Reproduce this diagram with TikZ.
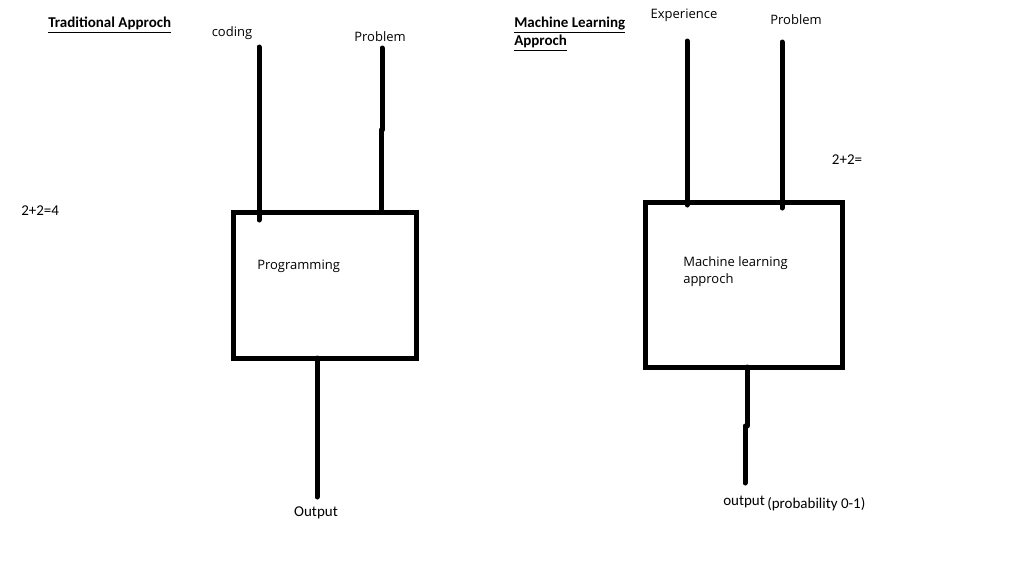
\documentclass[tikz,border=0pt]{standalone}
\usepackage{fontspec}
\setmainfont{Open Sans}
\newfontfamily\calib{Carlito}
\begin{document}
\begin{tikzpicture}[x=0.75pt,y=-0.75pt,
  wire/.style={line width=3.75pt,line cap=round},
  boxst/.style={draw,line width=3.75pt,inner sep=0pt,outer sep=0pt,rectangle},
  seg/.style={font=\fontsize{9.75}{12}\selectfont,inner sep=0pt,text height=7.5pt,text depth=2pt},
  segml/.style={font=\fontsize{9.75}{12.75}\selectfont,inner sep=0pt,align=left},
  cal/.style={font=\calib\fontsize{11.25}{13}\selectfont,inner sep=0pt,text height=7.5pt,text depth=2pt},
  head/.style={font=\calib\bfseries\fontsize{11.25}{13.5}\selectfont,inner sep=0pt,align=left}]
\useasboundingbox[fill=white] (0,0) rectangle (1018,569);

% ---- Traditional approach ----
\node[head,anchor=west] (h1) at (48,25) {\underline{Traditional Approch}};
\node[seg] (coding) at (232,33) {coding};
\node[seg] (prob1) at (380,38) {Problem};
\node[cal,anchor=west] (eq1) at (21,212) {2+2=4};
\node[boxst,minimum width=137.25pt,minimum height=109.5pt] (prog) at (324.5,285) {};
\node[seg,anchor=west] (progtxt) at (257,266) {Programming};
\node[cal] (out1) at (316,513) {Output};

\coordinate (c1a) at (259,47);  \coordinate (c1b) at (259,220);
\coordinate (p1a) at (382,48);  \coordinate (p1b) at (382,130);
\coordinate (p1c) at (381,130); \coordinate (p1d) at (381,212);
\coordinate (o1a) at (317,358); \coordinate (o1b) at (317,497);
\draw[wire] (c1a) -- (c1b);
\draw[wire] (p1a) -- (p1b);
\draw[wire] (p1c) -- (p1d);
\draw[wire] (o1a) -- (o1b);

% ---- Machine learning approach ----
\node[head,anchor=north west] (h2) at (514,17) {\underline{Machine Learning}\\\underline{Approch}};
\node[seg] (exp) at (684,15) {Experience};
\node[seg] (prob2) at (796,21) {Problem};
\node[cal] (eq2) at (847,161) {2+2=};
\node[boxst,minimum width=147.75pt,minimum height=123.75pt] (ml) at (743.5,284.5) {};
\node[segml,anchor=north west] (mltxt) at (683,256) {Machine learning\\approch};
\node[cal,anchor=west] (out2) at (723,502) {output};
\node[cal,anchor=west] (prob01) at (767,505) {(probability 0-1)};

\coordinate (e2a) at (687,41);  \coordinate (e2b) at (687,205);
\coordinate (p2a) at (782,42);  \coordinate (p2b) at (782,208);
\coordinate (o2a) at (747,367); \coordinate (o2b) at (747,426);
\coordinate (o2c) at (745,426); \coordinate (o2d) at (745,483);
\draw[wire] (e2a) -- (e2b);
\draw[wire] (p2a) -- (p2b);
\draw[wire] (o2a) -- (o2b);
\draw[wire] (o2c) -- (o2d);
\end{tikzpicture}
\end{document}
